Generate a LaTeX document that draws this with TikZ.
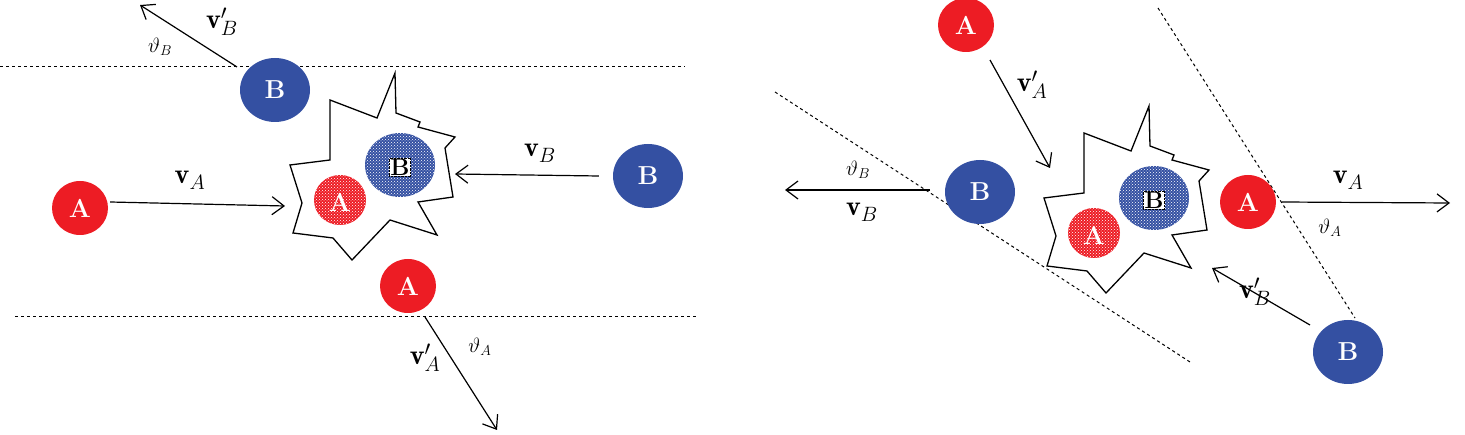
\documentclass[tikz,border=0pt]{standalone}
\usepackage{fontspec}
\usetikzlibrary{arrows.meta,patterns,shapes.geometric}
\definecolor{partred}{RGB}{237,28,36}
\definecolor{partblue}{RGB}{52,80,162}
\tikzset{
  part/.style={ellipse,minimum width=#1,text=white,font=\fontsize{26}{28}\selectfont\bfseries,inner sep=0pt},
  pa/.style={part=56pt,fill=partred,minimum height=54pt},
  pb/.style={part=70pt,fill=partblue,minimum height=64pt},
  vel/.style={-{Straight Barb[length=12pt,width=18pt]},line width=1.2pt},
  plane/.style={dashed,line width=1pt},
  lbl/.style={font=\fontsize{28}{30}\selectfont},
  ang/.style={font=\fontsize{22}{24}\selectfont},
}
\begin{document}
\begin{tikzpicture}[x=1pt,y=-1pt]
  \useasboundingbox (0,0) rectangle (1465,435);
  % compound nucleus, left and right
  \foreach \dx/\dy/\n in {0/0/l,754/33/r}{
    \begin{scope}[shift={(\dx,\dy)}]
      \draw[line width=1.3pt] (330,100) -- (377,118) -- (395,73) -- (396,113) -- (420,122) -- (418,127)
        -- (455,137) -- (445,148) -- (453,197) -- (418,202) -- (437,235) -- (390,220) -- (352,260)
        -- (333,238) -- (293,233) -- (302,203) -- (290,165) -- (330,160) -- cycle;
      \fill[partred] (340,200) ellipse (26 and 25);
      \fill[pattern=crosshatch dots,pattern color=white] (340,200) ellipse (26 and 25);
      \fill[partblue] (400,165) ellipse (35 and 32);
      \fill[pattern=crosshatch dots,pattern color=white] (400,165) ellipse (35 and 32);
      \node[text=white,font=\fontsize{26}{28}\selectfont\bfseries] (ia\n) at (340,202) {A};
      \node[fill=white,draw=black,densely dotted,inner sep=1pt,font=\fontsize{24}{26}\selectfont\bfseries] (ib\n) at (400,167) {B};
    \end{scope}
  }
  % left: before and after
  \draw[plane] (0,67) -- (685,67);
  \draw[plane] (15,317) -- (697,317);
  \node[pa] (a1) at (80,208) {A};
  \node[pb] (b1) at (648,176) {B};
  \node[pb] (b2) at (275,90) {B};
  \node[pa] (a2) at (408,286) {A};
  \coordinate (c1) at (285,206);
  \coordinate (c2) at (455,174);
  \coordinate (s1) at (237,67);
  \coordinate (e1) at (140,5);
  \coordinate (s2) at (425,317);
  \coordinate (e2) at (497,430);
  \draw[vel] (a1.east) ++(2,-6) -- (c1);
  \draw[vel] (b1.west) ++(-14,0) -- (c2);
  \draw[vel] (s1) -- (e1);
  \draw[vel] (s2) -- (e2);
  \node[lbl] at (190,180) {$\mathbf{v}_A$};
  \node[lbl] at (540,153) {$\mathbf{v}_B$};
  \node[lbl] at (222,22) {$\mathbf{v}_B'$};
  \node[ang] at (160,47) {$\vartheta_B$};
  \node[lbl] at (425,358) {$\mathbf{v}_A'$};
  \node[ang] at (480,347) {$\vartheta_A$};
  % right: before and after
  \draw[plane] (775,92) -- (1190,362);
  \draw[plane] (1158,8) -- (1355,318);
  \node[pa] (a3) at (966,25) {A};
  \node[pb] (b3) at (980,192) {B};
  \node[pa] (a4) at (1248,202) {A};
  \node[pb] (b4) at (1348,352) {B};
  \coordinate (c3) at (1050,168);
  \coordinate (c4) at (1212,268);
  \coordinate (e3) at (785,190);
  \coordinate (e4) at (1450,203);
  \draw[vel] (990,60) -- (c3);
  \draw[vel] (1310,325) -- (c4);
  \draw[vel] (930,190) -- (e3);
  \draw[vel] (1282,202) -- (e4);
  \node[lbl] at (1032,85) {$\mathbf{v}_A'$};
  \node[lbl] at (1255,292) {$\mathbf{v}_B'$};
  \node[ang] at (858,170) {$\vartheta_B$};
  \node[lbl] at (862,212) {$\mathbf{v}_B$};
  \node[lbl] at (1348,180) {$\mathbf{v}_A$};
  \node[ang] at (1330,228) {$\vartheta_A$};
\end{tikzpicture}
\end{document}
